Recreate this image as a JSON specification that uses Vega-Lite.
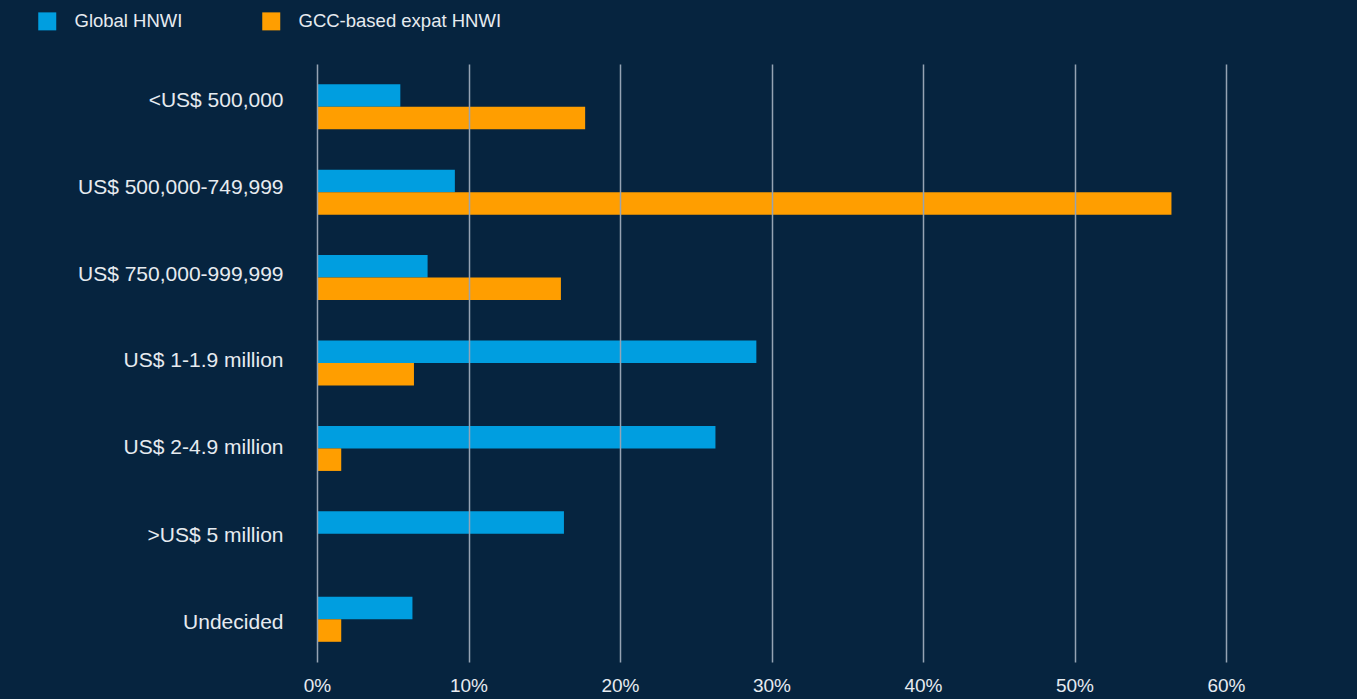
{
  "$schema": "https://vega.github.io/schema/vega-lite/v6.json",
  "autosize": "none",
  "width": 909,
  "height": 598,
  "padding": {"left": 317, "top": 64, "right": 131, "bottom": 37},
  "background": "#06243f",
  "config": {
    "view": {"stroke": null},
    "font": "Liberation Sans",
    "axis": {"labelColor": "#e6ebf0", "labelFont": "Liberation Sans"},
    "legend": {"labelColor": "#e6ebf0", "labelFont": "Liberation Sans"}
  },
  "data": {
    "values": [
      {"cat": "<US$ 500,000", "series": "Global HNWI", "pct": 5.5},
      {"cat": "<US$ 500,000", "series": "GCC-based expat HNWI", "pct": 17.7},
      {"cat": "US$ 500,000-749,999", "series": "Global HNWI", "pct": 9.1},
      {"cat": "US$ 500,000-749,999", "series": "GCC-based expat HNWI", "pct": 56.4},
      {"cat": "US$ 750,000-999,999", "series": "Global HNWI", "pct": 7.3},
      {"cat": "US$ 750,000-999,999", "series": "GCC-based expat HNWI", "pct": 16.1},
      {"cat": "US$ 1-1.9 million", "series": "Global HNWI", "pct": 29.0},
      {"cat": "US$ 1-1.9 million", "series": "GCC-based expat HNWI", "pct": 6.4},
      {"cat": "US$ 2-4.9 million", "series": "Global HNWI", "pct": 26.3},
      {"cat": "US$ 2-4.9 million", "series": "GCC-based expat HNWI", "pct": 1.6},
      {"cat": ">US$ 5 million", "series": "Global HNWI", "pct": 16.3},
      {"cat": ">US$ 5 million", "series": "GCC-based expat HNWI", "pct": 0},
      {"cat": "Undecided", "series": "Global HNWI", "pct": 6.3},
      {"cat": "Undecided", "series": "GCC-based expat HNWI", "pct": 1.6}
    ]
  },
  "mark": {"type": "bar"},
  "encoding": {
    "y": {
      "field": "cat",
      "type": "nominal",
      "sort": null,
      "title": null,
      "scale": {"paddingInner": 0.473, "paddingOuter": 0.2365},
      "axis": {
        "domain": false,
        "ticks": false,
        "labelPadding": 34,
        "labelFontSize": 21,
        "labelLimit": 400,
        "grid": false,
        "labelOffset": {
          "condition": [
            {"test": "datum.value === '<US$ 500,000'", "value": -6},
            {"test": "datum.value === 'US$ 500,000-749,999'", "value": -4},
            {"test": "datum.value === 'US$ 750,000-999,999'", "value": -3},
            {"test": "datum.value === 'US$ 1-1.9 million'", "value": -2},
            {"test": "datum.value === '>US$ 5 million'", "value": 2},
            {"test": "datum.value === 'Undecided'", "value": 4}
          ],
          "value": 0
        }
      }
    },
    "yOffset": {
      "field": "series",
      "type": "nominal",
      "sort": ["Global HNWI", "GCC-based expat HNWI"],
      "scale": {"paddingInner": 0, "paddingOuter": 0}
    },
    "x": {
      "field": "pct",
      "type": "quantitative",
      "title": null,
      "scale": {"domain": [0, 60], "nice": false},
      "axis": {
        "values": [0, 10, 20, 30, 40, 50, 60],
        "labelExpr": "datum.value + '%'",
        "labelFlush": false,
        "domain": false,
        "ticks": false,
        "grid": true,
        "gridColor": "#95a3b3",
        "gridWidth": 1.5,
        "labelFontSize": 19,
        "labelPadding": 14,
        "zindex": 1
      }
    },
    "color": {
      "field": "series",
      "type": "nominal",
      "sort": ["Global HNWI", "GCC-based expat HNWI"],
      "scale": {"range": ["#009ee0", "#ff9e00"]},
      "legend": {
        "title": null,
        "orient": "none",
        "legendX": -279,
        "legendY": -52,
        "direction": "horizontal",
        "symbolType": "square",
        "symbolSize": 324,
        "symbolStrokeWidth": 0,
        "labelFontSize": 18.5,
        "labelOffset": 18,
        "labelLimit": 400,
        "columnPadding": 79
      }
    }
  }
}
